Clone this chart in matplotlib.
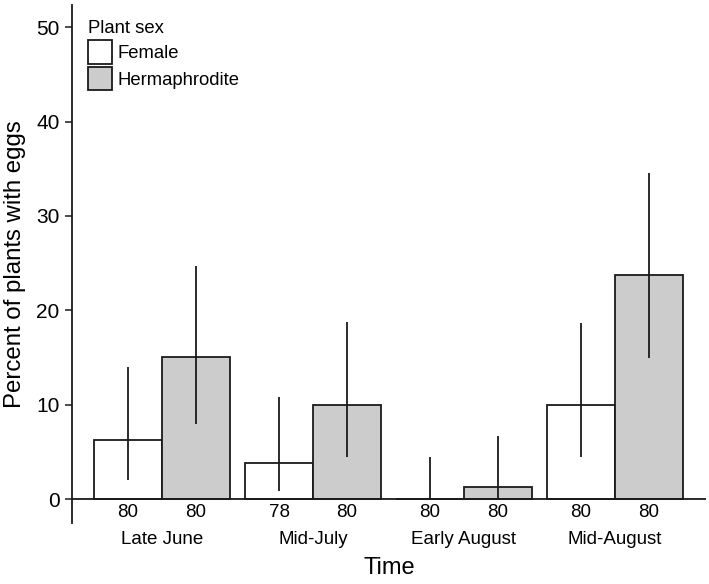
import matplotlib
matplotlib.use("Agg")
import matplotlib.pyplot as plt
import matplotlib.transforms as mtransforms
import numpy as np
from matplotlib.patches import Patch

plt.rcParams['font.family'] = ['Liberation Sans', 'DejaVu Sans']

categories = ["Late June", "Mid-July", "Early August", "Mid-August"]
sexes = ["Female", "Hermaphrodite"]
female_pct = [6.25, 3.85, 0.0, 10.0]
herm_pct = [15.0, 10.0, 1.25, 23.75]
female_lo = [2.0, 0.8, 0.0, 4.4]
female_hi = [13.95, 10.8, 4.45, 18.7]
herm_lo = [7.98, 4.4, 0.0, 14.9]
herm_hi = [24.7, 18.75, 6.7, 34.6]
female_n = ["80", "78", "80", "80"]
herm_n = ["80", "80", "80", "80"]

EDGE = "#1a1a1a"
LW = 1.3

fig = plt.figure(figsize=(7.09, 5.84), dpi=100)
ax = fig.add_axes([0.1016, 0.1045, 0.8944, 0.8865])

x = np.arange(len(categories))
w = 0.45
xf = x - w / 2
xh = x + w / 2
ax.bar(xf, female_pct, width=w, color="white", edgecolor=EDGE, linewidth=LW, zorder=2)
ax.bar(xh, herm_pct, width=w, color="#cccccc", edgecolor=EDGE, linewidth=LW, zorder=2)
ax.vlines(xf, female_lo, female_hi, color=EDGE, linewidth=LW, zorder=3)
ax.vlines(xh, herm_lo, herm_hi, color=EDGE, linewidth=LW, zorder=3)
ax.axhline(0, color=EDGE, linewidth=LW, zorder=4)

ax.set_xlim(-0.596, 3.604)
ax.set_ylim(-2.54, 52.33)
ax.set_yticks([0, 10, 20, 30, 40, 50])
ax.tick_params(axis='y', labelsize=15, length=5, width=1.1, color=EDGE, pad=4)
ax.set_xticks([])

for s in ['top', 'right', 'bottom']:
    ax.spines[s].set_visible(False)
ax.spines['left'].set_linewidth(LW)
ax.spines['left'].set_color(EDGE)

# sample sizes under each bar
for xi, n in zip(np.concatenate([xf, xh]), female_n + herm_n):
    ax.text(xi, -1.48, n, ha='center', va='center', fontsize=13.5, clip_on=False)
# time categories
for xi, c in zip(x, categories):
    ax.text(xi, -4.34, c, ha='center', va='center', fontsize=13.5, clip_on=False)
# axis title
trans = mtransforms.blended_transform_factory(ax.transAxes, ax.transData)
ax.text(0.5, -7.3, "Time", transform=trans, ha='center', va='center', fontsize=17, clip_on=False)

ax.set_ylabel("Percent of plants with eggs", fontsize=17.3, labelpad=7)

handles = [Patch(facecolor="white", edgecolor=EDGE, linewidth=LW, label=sexes[0]),
           Patch(facecolor="#cccccc", edgecolor=EDGE, linewidth=LW, label=sexes[1])]
leg = ax.legend(handles=handles, title="Plant sex", loc="upper left", frameon=False,
                fontsize=13.3, title_fontsize=13.3, handlelength=1.3, handleheight=1.58,
                handletextpad=0.3, labelspacing=0.18, bbox_to_anchor=(0.025, 0.972),
                borderaxespad=0, borderpad=0)
leg._legend_box.align = "left"

fig.savefig("out.png", dpi=100)
